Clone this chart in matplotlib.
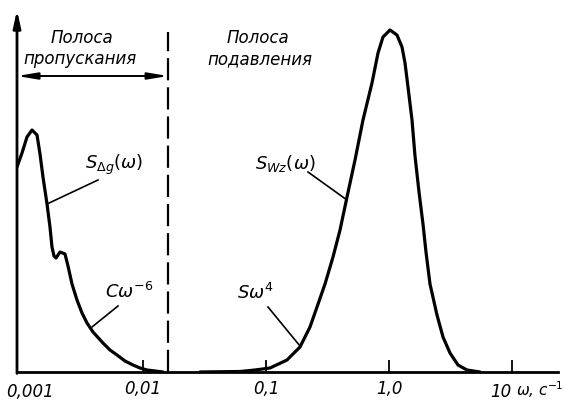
import numpy as np
import matplotlib
matplotlib.use("Agg")
import matplotlib.pyplot as plt

plt.rcParams['font.family'] = ['DejaVu Sans']
plt.rcParams['mathtext.fontset'] = 'dejavusans'
plt.rcParams['lines.scale_dashes'] = False

# Pass-band spectrum S_dg(omega)
omega1 = [0.000945, 0.001038, 0.001140, 0.001252, 0.001375, 0.001454, 0.001538,
          0.001658, 0.001753, 0.001820, 0.001890, 0.001962, 0.002115, 0.002322,
          0.002456, 0.002550, 0.002647, 0.002906, 0.003193, 0.003505, 0.003922,
          0.004728, 0.005391, 0.006145, 0.007141, 0.008293, 0.009454, 0.010777,
          0.014543]
s1 = [205, 219, 235, 242, 237, 218, 195, 168, 145, 125, 116, 114, 120, 118,
      106, 97, 88, 72, 59, 49, 40, 29, 22, 17, 11, 7, 4, 2, 0]

# Suppression-band spectrum S_Wz(omega)
omega2 = [0.02906, 0.06146, 0.08136, 0.10777, 0.14816, 0.18897, 0.22784, 0.25986,
          0.30178, 0.35051, 0.39975, 0.45572, 0.52928, 0.61447, 0.72727, 0.81403,
          0.89365, 1.01883, 1.16145, 1.27555, 1.34924, 1.42714, 1.53815, 1.62706,
          1.75388, 1.88935, 1.99852, 2.15443, 2.45580, 2.74789, 3.13226, 3.63915,
          4.30639, 5.49421]
s2 = [0, 0.5, 2, 4, 12, 25, 45, 65, 88, 115, 142, 175, 212, 252, 289, 319, 335,
      342, 337, 325, 309, 285, 252, 216, 180, 148, 120, 88, 57, 35, 19, 7, 2, 0]

tick_pos = [0.01, 0.1, 1.0]
tick_lab = ['0,01', '0,1', '1,0']
boundary = 0.016

W, H = 564, 405
fig = plt.figure(figsize=(W / 100, H / 100), dpi=100)
x0, x1, yb, yt = 17, 558, 372, 12
ax = fig.add_axes([x0 / W, (H - yb) / H, (x1 - x0) / W, (yb - yt) / H])
ax.set_xscale('log')
dec = 123.0
lo = 10 ** (-2 + (x0 - 143) / dec)
hi = 10 ** (-2 + (x1 - 143) / dec)
ax.set_xlim(lo, hi)
ax.set_ylim(0, yb - yt)

for sp in ['top', 'right', 'left']:
    ax.spines[sp].set_visible(False)
ax.spines['bottom'].set_linewidth(2.0)
ax.set_yticks([])
ax.xaxis.set_minor_locator(matplotlib.ticker.NullLocator())
ax.set_xticks(tick_pos + [10.0])
ax.set_xticklabels(tick_lab + [''])
ax.tick_params(axis='x', direction='in', length=9, width=1.3, pad=6,
               labelsize=12)
for lbl in ax.get_xticklabels():
    lbl.set_style('italic')

# y axis with arrow
ax.annotate('', xy=(0, 1.0 + 2 / 360), xytext=(0, -0.004), xycoords='axes fraction',
            arrowprops=dict(arrowstyle='-|>,head_length=1.0,head_width=0.22',
                            lw=2.0, color='black', shrinkA=0, shrinkB=0),
            annotation_clip=False)

lw = 2.3
ax.plot(omega1, s1, color='black', lw=lw, solid_joinstyle='round', solid_capstyle='round')
ax.plot(omega2, s2, color='black', lw=lw, solid_joinstyle='round', solid_capstyle='round')

# boundary dashed line
ax.plot([boundary, boundary], [0, yb - 32], color='black', lw=1.6, dashes=(16, 5))

# double arrow
ax.annotate('', xy=(lo, yb - 76), xytext=(boundary, yb - 76),
            arrowprops=dict(arrowstyle='<|-|>,head_length=1.2,head_width=0.2',
                            lw=1.4, color='black', shrinkA=0, shrinkB=0))

def px2x(px):
    return 10 ** (-2 + (px - 143) / dec)

def py2y(py):
    return yb - py

tk = dict(style='italic', fontsize=12, color='black')
ax.text(px2x(82), py2y(38), 'Полоса', ha='center', va='center', **tk)
ax.text(px2x(80), py2y(59), 'пропускания', ha='center', va='center', **tk)
ax.text(px2x(258), py2y(38), 'Полоса', ha='center', va='center', **tk)
ax.text(px2x(260), py2y(59), 'подавления', ha='center', va='center', **tk)

mk = dict(fontsize=13, color='black')
ax.text(px2x(85), py2y(165), r'$S_{\Delta g}(\omega)$', ha='left', va='center', **mk)
ax.plot([px2x(47), px2x(98)], [py2y(204), py2y(180)], color='black', lw=1.2)
ax.text(px2x(105), py2y(292), r'$C\omega^{-6}$', ha='left', va='center', **mk)
ax.plot([px2x(92), px2x(118)], [py2y(327), py2y(306)], color='black', lw=1.2)
ax.text(px2x(255), py2y(163), r'$S_{Wz}(\omega)$', ha='left', va='center', **mk)
ax.plot([px2x(308), px2x(347)], [py2y(172), py2y(200)], color='black', lw=1.2)
ax.text(px2x(237), py2y(293), r'$S\omega^{4}$', ha='left', va='center', **mk)
ax.plot([px2x(268), px2x(300)], [py2y(307), py2y(346)], color='black', lw=1.2)

# extra axis labels
ax.text(px2x(30), py2y(392), '0,001', ha='center', va='center', **tk)
ax.text(px2x(511), py2y(392), '10', ha='right', va='center', **tk)
ax.text(px2x(516), py2y(390), r'$\omega$, c$^{-1}$', ha='left', va='center',
        style='italic', fontsize=11, color='black')

fig.savefig('out.png', dpi=100)
